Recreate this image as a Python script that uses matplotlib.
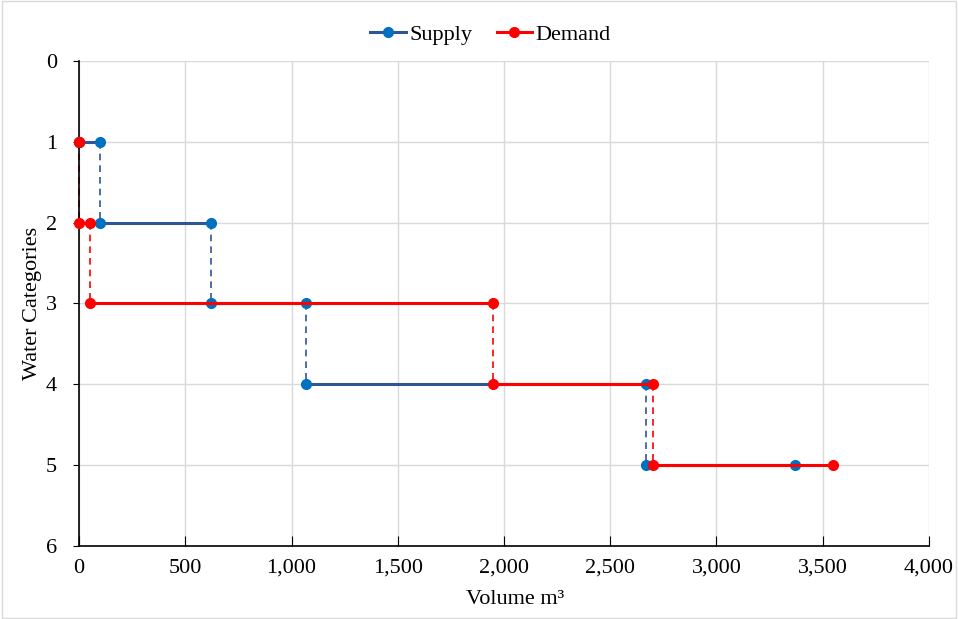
import matplotlib.pyplot as plt
from matplotlib.patches import Rectangle
from matplotlib.ticker import FuncFormatter

# step points (volume, category)
supply_x = [0, 100, 100, 620, 620, 1070, 1070, 2670, 2670, 3370]
supply_y = [1, 1, 2, 2, 3, 3, 4, 4, 5, 5]
demand_x = [0, 0, 0, 50, 50, 1950, 1950, 2700, 2700, 3550]
demand_y = [1, 1, 2, 2, 3, 3, 4, 4, 5, 5]

plt.rcParams['font.family'] = ['Liberation Serif', 'DejaVu Serif']

blue_line = '#2F5597'
blue_mark = '#0070C0'
red = '#FF0000'

fig = plt.figure(figsize=(9.58, 6.19), dpi=100)
ax = fig.add_axes([0.0825, 0.1179, 0.8872, 0.7836])

def draw_steps(ax, xs, ys, lc, mc, label):
    # horizontal parts solid, vertical parts dashed
    for i in range(0, len(xs) - 1, 2):
        ax.plot([xs[i], xs[i+1]], [ys[i], ys[i+1]], color=lc, lw=2.2,
                marker='o', ms=7, mfc=mc, mec=mc, zorder=3, clip_on=False,
                label=label if i == 0 else None)
    for i in range(1, len(xs) - 1, 2):
        ax.plot([xs[i], xs[i+1]], [ys[i], ys[i+1]], color=lc, lw=1.2,
                ls=(0, (4, 3)), zorder=2, clip_on=False)

draw_steps(ax, supply_x, supply_y, blue_line, blue_mark, 'Supply')
draw_steps(ax, demand_x, demand_y, red, red, 'Demand')

ax.set_xlim(0, 4000)
ax.set_ylim(6, 0)
ax.set_xticks(range(0, 4001, 500))
ax.set_yticks(range(0, 7))
ax.xaxis.set_major_formatter(FuncFormatter(lambda v, p: f'{int(v):,}'))
ax.grid(True, color='#D9D9D9', lw=1)
ax.set_axisbelow(True)
for s in ['top', 'right']:
    ax.spines[s].set_visible(False)
for s in ['left', 'bottom']:
    ax.spines[s].set_linewidth(1.2)
ax.tick_params(axis='x', direction='in', length=7, labelsize=16, pad=9)
ax.tick_params(axis='y', direction='out', length=4, labelsize=16, pad=12)
ax.set_xlabel('Volume m³', fontsize=16)
ax.xaxis.set_label_coords(0.513, -0.09)
ax.set_ylabel('Water Categories', fontsize=16, labelpad=3)

ax.legend(loc='center', bbox_to_anchor=(0.484, 1.055), ncol=2, frameon=False,
          fontsize=16, handlelength=1.6, handletextpad=0.15, columnspacing=1.1)

fig.patches.append(Rectangle((0.002, 0.002), 0.996, 0.996, transform=fig.transFigure,
                             fill=False, edgecolor='#D9D9D9', lw=1))

fig.savefig('out.png', dpi=100)
